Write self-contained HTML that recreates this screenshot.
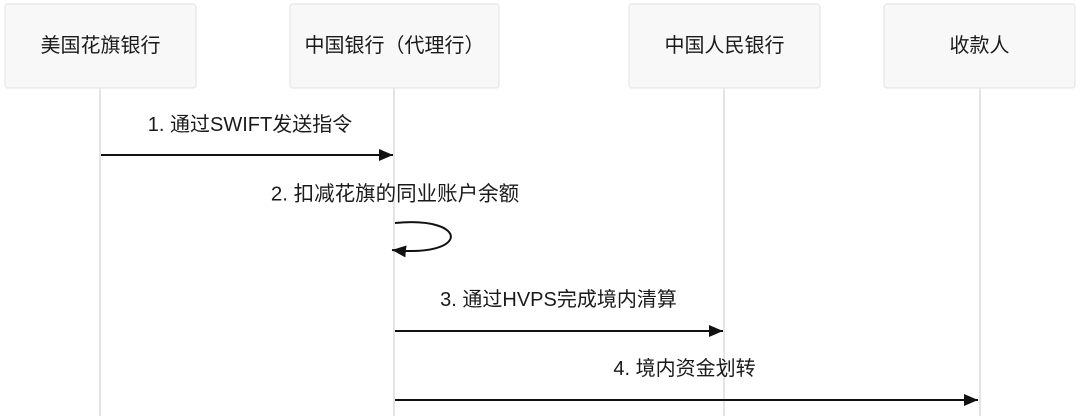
<!DOCTYPE html>
<html><head><meta charset="utf-8"><style>
html,body{margin:0;padding:0;background:#fff;}
svg{display:block;}
text{font-family:"Liberation Sans","Noto Sans CJK SC",sans-serif;fill:#1a1a1a;}
</style></head><body>
<svg width="1080" height="416" viewBox="0 0 1080 416" xmlns="http://www.w3.org/2000/svg">
<defs>
<marker id="ah" viewBox="0 0 14 12" refX="14" refY="6" markerWidth="14" markerHeight="12" markerUnits="userSpaceOnUse" orient="auto">
<path d="M0,0 L14,6 L0,12 Z" fill="#111"/>
</marker>
</defs>
<!-- lifelines -->
<g stroke="#e4e4e4" stroke-width="2">
<line x1="100" y1="88" x2="100" y2="416"/>
<line x1="394" y1="88" x2="394" y2="416"/>
<line x1="724" y1="88" x2="724" y2="416"/>
<line x1="980" y1="88" x2="980" y2="416"/>
</g>
<!-- actor boxes -->
<g fill="#f8f8f8" stroke="#e6e6e6" stroke-width="1.2">
<rect x="5" y="4" width="191" height="84" rx="3"/>
<rect x="290" y="4" width="209" height="84" rx="3"/>
<rect x="629" y="4" width="191" height="84" rx="3"/>
<rect x="884" y="4" width="191" height="84" rx="3"/>
</g>
<g font-size="20" text-anchor="middle" dominant-baseline="central">
<text x="100.5" y="46">美国花旗银行</text>
<text x="394.5" y="46">中国银行（代理行）</text>
<text x="724.5" y="46">中国人民银行</text>
<text x="979.5" y="46">收款人</text>
</g>
<!-- messages -->
<g font-size="20" text-anchor="middle" dominant-baseline="central">
<text x="250" y="125">1. 通过SWIFT发送指令</text>
<text x="395" y="194" font-size="20.5">2. 扣减花旗的同业账户余额</text>
<text x="558.5" y="300">3. 通过HVPS完成境内清算</text>
<text x="684.5" y="369">4. 境内资金划转</text>
</g>
<g stroke="#111" stroke-width="2" fill="none">
<line x1="101" y1="155" x2="393" y2="155" marker-end="url(#ah)"/>
<path d="M395,223 C470,216 470,258 392,250" marker-end="url(#ah)"/>
<line x1="395" y1="331" x2="723" y2="331" marker-end="url(#ah)"/>
<line x1="395" y1="400" x2="978" y2="400" marker-end="url(#ah)"/>
</g>
</svg>
</body></html>
